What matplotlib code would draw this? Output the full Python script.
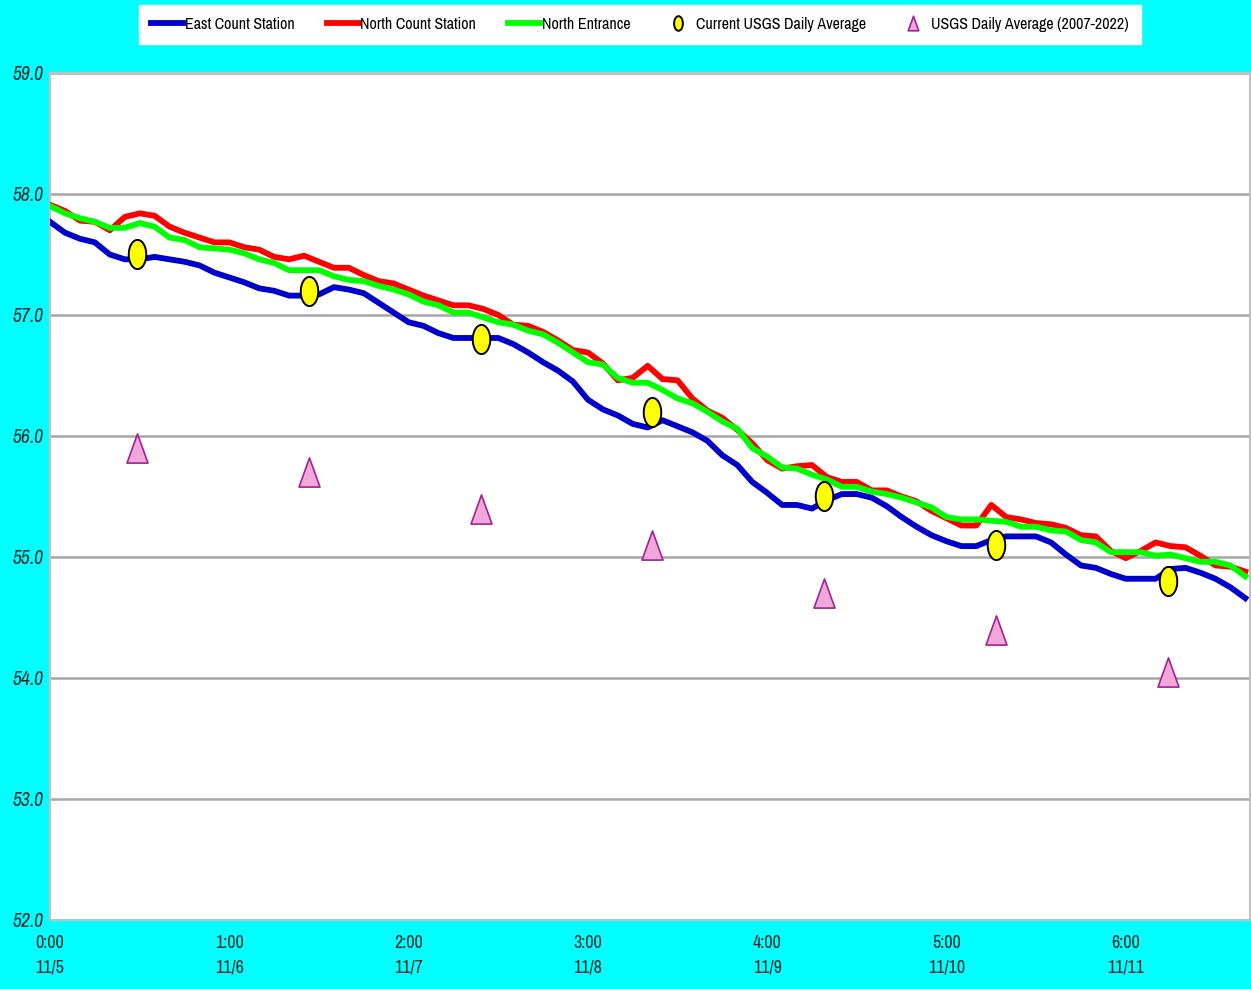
"""
Water temperature chart: three stations vs USGS daily averages.
Saves out.png.
"""
import matplotlib
matplotlib.use('Agg')
import matplotlib.pyplot as plt
from matplotlib import font_manager
from matplotlib.path import Path
import numpy as np

# look for a narrow / condensed face, the original uses one
fonts = font_manager.fontManager.ttflist
narrow_named = [f.name for f in fonts if 'Narrow' in f.name or 'Condensed' in f.name]
cond_stretch = [f.name for f in fonts
                if str(f.stretch) in ('condensed', 'semi-condensed', 'extra-condensed')]
leg_size, tick_size = 11.5, 14
if narrow_named:
    plt.rcParams['font.family'] = [narrow_named[0], 'DejaVu Sans']
elif cond_stretch:
    plt.rcParams['font.family'] = [cond_stretch[0], 'DejaVu Sans']
    plt.rcParams['font.stretch'] = 'condensed'
    leg_size = 11
else:
    plt.rcParams['font.family'] = ['DejaVu Sans']
    leg_size, tick_size = 9.5, 11.5

# ─── Data (hours since 11/5 0:00, every 2 hours) ───
hours = list(range(0, 161, 2))

east = [57.77, 57.68, 57.63, 57.60, 57.50, 57.46, 57.46, 57.48, 57.46, 57.44,
        57.41, 57.35, 57.31, 57.27, 57.22, 57.20, 57.16, 57.16, 57.17, 57.23,
        57.21, 57.18, 57.10, 57.02, 56.94, 56.91, 56.85, 56.81, 56.81, 56.81,
        56.81, 56.76, 56.69, 56.61, 56.54, 56.45, 56.30, 56.22, 56.17, 56.10,
        56.07, 56.13, 56.08, 56.03, 55.96, 55.84, 55.76, 55.62, 55.53, 55.43,
        55.43, 55.40, 55.47, 55.52, 55.52, 55.49, 55.42, 55.33, 55.25, 55.18,
        55.13, 55.09, 55.09, 55.14, 55.17, 55.17, 55.17, 55.12, 55.02, 54.93,
        54.91, 54.86, 54.82, 54.82, 54.82, 54.90, 54.91, 54.87, 54.82, 54.75,
        54.66]

north = [57.91, 57.86, 57.78, 57.77, 57.70, 57.81, 57.84, 57.82, 57.73, 57.68,
         57.64, 57.60, 57.60, 57.56, 57.54, 57.48, 57.46, 57.49, 57.44, 57.39,
         57.39, 57.33, 57.28, 57.26, 57.21, 57.16, 57.12, 57.08, 57.08, 57.05,
         57.00, 56.92, 56.91, 56.86, 56.79, 56.71, 56.69, 56.60, 56.46, 56.48,
         56.58, 56.47, 56.46, 56.31, 56.21, 56.15, 56.05, 55.94, 55.80, 55.73,
         55.75, 55.76, 55.66, 55.62, 55.62, 55.55, 55.55, 55.50, 55.46, 55.38,
         55.32, 55.26, 55.26, 55.43, 55.33, 55.31, 55.28, 55.27, 55.24, 55.18,
         55.17, 55.05, 54.99, 55.05, 55.12, 55.09, 55.08, 55.01, 54.93, 54.92,
         54.88]

entrance = [57.90, 57.84, 57.80, 57.77, 57.72, 57.72, 57.76, 57.73, 57.64, 57.62,
            57.56, 57.55, 57.54, 57.51, 57.46, 57.43, 57.37, 57.37, 57.37, 57.32,
            57.29, 57.28, 57.24, 57.21, 57.17, 57.11, 57.08, 57.02, 57.02, 56.98,
            56.94, 56.92, 56.87, 56.84, 56.77, 56.69, 56.61, 56.59, 56.48, 56.44,
            56.44, 56.38, 56.31, 56.27, 56.20, 56.12, 56.06, 55.90, 55.83, 55.74,
            55.73, 55.68, 55.64, 55.58, 55.58, 55.54, 55.52, 55.49, 55.45, 55.41,
            55.33, 55.31, 55.31, 55.30, 55.29, 55.25, 55.25, 55.22, 55.21, 55.14,
            55.12, 55.04, 55.04, 55.04, 55.01, 55.02, 54.99, 54.96, 54.96, 54.93,
            54.84]

usgs_hours = [11.7, 34.7, 57.7, 80.6, 103.6, 126.6, 149.6]
usgs_current = [57.5, 57.2, 56.8, 56.2, 55.5, 55.1, 54.8]
usgs_hist = [55.9, 55.7, 55.4, 55.1, 54.7, 54.4, 54.05]

tick_hours = [0, 24, 48, 72, 96, 120, 144]
tick_labels = ['0:00\n11/5', '1:00\n11/6', '2:00\n11/7', '3:00\n11/8',
               '4:00\n11/9', '5:00\n11/10', '6:00\n11/11']

# ─── Colors ───
c_bg = '#00FFFF'
c_east = '#0000CC'
c_north = '#FF0000'
c_ent = '#00FF00'
c_grid = '#A6A6A6'
c_tri_face = '#F2A7DC'
c_tri_edge = '#A0238F'

# tall ellipse / tall triangle markers
t = np.linspace(0, 2 * np.pi, 60)
ellipse = Path(np.column_stack([0.6 * np.cos(t), np.sin(t)]), closed=True)
tri = Path([(-0.36, -0.5), (0.36, -0.5), (0, 0.5), (-0.36, -0.5)], closed=True)

fig = plt.figure(figsize=(12.51, 9.89), dpi=100, facecolor=c_bg)
ax = fig.add_axes([0.040, 0.0698, 0.959, 0.8564])
ax.set_facecolor('white')

ax.plot(hours, east, color=c_east, lw=4.2, label='East Count Station', zorder=3)
ax.plot(hours, north, color=c_north, lw=4.2, label='North Count Station', zorder=3)
ax.plot(hours, entrance, color=c_ent, lw=4.2, label='North Entrance', zorder=4)
ax.plot(usgs_hours, usgs_current, ls='none', marker=ellipse, ms=21,
        mfc='#FFFF00', mec='black', mew=1.4, label='Current USGS Daily Average', zorder=5)
ax.plot(usgs_hours, usgs_hist, ls='none', marker=tri, ms=21,
        mfc=c_tri_face, mec=c_tri_edge, mew=1.2, label='USGS Daily Average (2007-2022)', zorder=5)

ax.set_xlim(0, 160.6)
ax.set_ylim(52, 59)
ax.set_yticks(np.arange(52, 59.01, 1.0))
ax.set_yticklabels([f'{v:.1f}' for v in np.arange(52, 59.01, 1.0)],
                   fontsize=tick_size, style='italic', color='#1A2A2A')
ax.set_xticks(tick_hours)
ax.set_xticklabels(tick_labels, fontsize=tick_size - 1, color='#1A2A2A', linespacing=1.65)
ax.tick_params(axis='both', length=0)
ax.tick_params(axis='x', pad=11)
ax.tick_params(axis='y', pad=5)
ax.grid(axis='y', color=c_grid, lw=1.8, zorder=1)
ax.set_axisbelow(True)
for s in ax.spines.values():
    s.set_color('#C0C0C0')
    s.set_linewidth(1.5)

leg = fig.legend(loc='center', bbox_to_anchor=(0.5116, 0.9752), ncol=5,
                 frameon=True, fancybox=False, framealpha=1, fontsize=leg_size,
                 markerscale=0.5, handlelength=2.0, handletextpad=0.1,
                 columnspacing=2.0, borderpad=0.75, borderaxespad=0)
leg.get_frame().set_facecolor('white')
leg.get_frame().set_edgecolor('white')

fig.savefig('out.png', dpi=100, facecolor=c_bg)
